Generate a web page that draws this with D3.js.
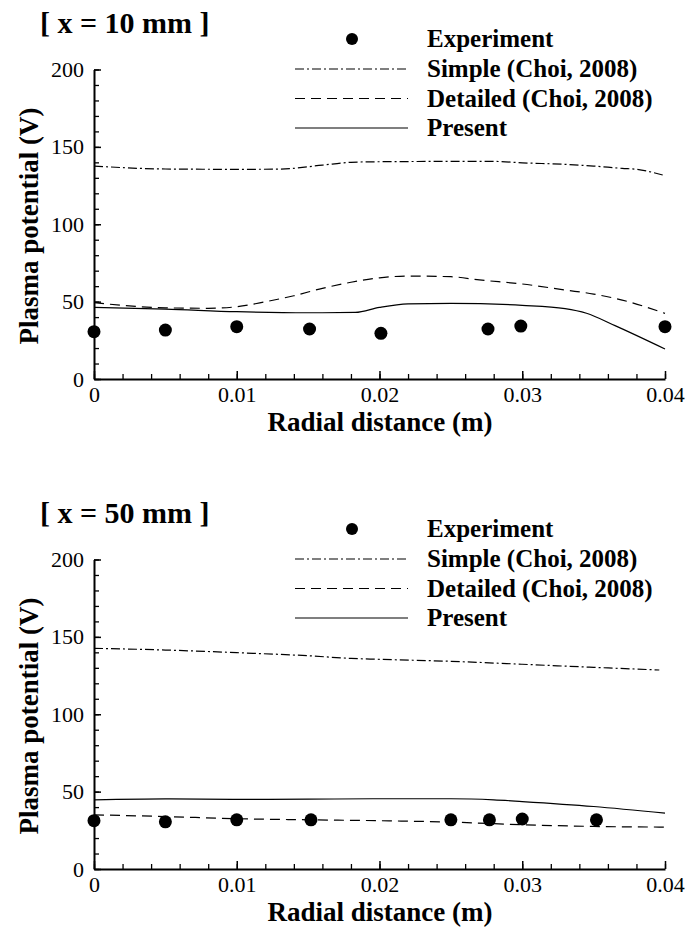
<!DOCTYPE html>
<html lang="en">

<head>
    <meta charset="UTF-8">
    <title>Plasma potential vs radial distance</title>
    <script src="https://d3js.org/d3.v7.min.js"></script>
    <style>
        body {
            margin: 0;
            background: white;
        }
    </style>
</head>

<body>
    <svg id="chart" width="688" height="927"></svg>
    <script>
        // ---- data ----
        const xTicks = [0, 0.01, 0.02, 0.03, 0.04];
        const yTicks = [0, 50, 100, 150, 200];
        const panelTitles = ["[ x = 10 mm ]", "[ x = 50 mm ]"];
        const legendLabels = ["Experiment", "Simple (Choi, 2008)", "Detailed (Choi, 2008)", "Present"];

        // x = 10 mm
        const expXTop = [0, 0.005, 0.01, 0.0151, 0.0201, 0.0276, 0.0299, 0.04];
        const expTop = [30.6, 31.6, 33.8, 32.3, 29.5, 32.3, 34.2, 33.8];
        const simpleXTop = [0, 0.005, 0.01, 0.013, 0.016, 0.018, 0.02, 0.025, 0.028, 0.03, 0.033, 0.035, 0.037, 0.038, 0.04];
        const simpleTop = [137.6, 135.7, 135.5, 135.6, 138.2, 140, 140.4, 140.6, 140.6, 139.7, 138.7, 137.6, 136.1, 135.5, 131.4];
        const detailedXTop = [0, 0.005, 0.008, 0.01, 0.012, 0.014, 0.016, 0.018, 0.02, 0.022, 0.025, 0.027, 0.03, 0.033, 0.035, 0.037, 0.04];
        const detailedTop = [49.3, 46, 45.7, 46.7, 49.9, 53.8, 58.6, 62.5, 65.4, 66.5, 66.1, 64, 61.4, 57.5, 54.9, 51, 42.4];
        const presentXTop = [0, 0.005, 0.01, 0.015, 0.0183, 0.02, 0.022, 0.025, 0.03, 0.033, 0.0345, 0.0365, 0.04];
        const presentTop = [46.3, 45.2, 43.5, 42.8, 43, 46.3, 48.6, 48.9, 47.6, 45.5, 42.5, 34.5, 19.4];

        // x = 50 mm
        const expXBot = [0, 0.005, 0.01, 0.0152, 0.025, 0.0277, 0.03, 0.0352];
        const expBot = [31.2, 30.5, 31.8, 31.8, 31.8, 31.8, 32.3, 31.8];
        const simpleXBot = [0, 0.005, 0.01, 0.015, 0.018, 0.02, 0.025, 0.03, 0.035, 0.0396];
        const simpleBot = [142.6, 141.5, 139.8, 137.8, 136.1, 135.5, 134.2, 132.3, 130.3, 128.6];
        const detailedXBot = [0, 0.005, 0.01, 0.015, 0.02, 0.025, 0.03, 0.035, 0.04];
        const detailedBot = [35, 33.9, 32.5, 31.8, 31.2, 30.3, 28.6, 27.5, 27.1];
        const presentXBot = [0, 0.005, 0.01, 0.015, 0.02, 0.025, 0.028, 0.03, 0.035, 0.04];
        const presentBot = [44.7, 45.3, 45, 45.1, 45.4, 45.4, 44.7, 43.6, 40.4, 36.1];

        const FONT = "'Liberation Serif', 'Times New Roman', Times, 'DejaVu Serif', serif";

        const svg = d3.select("#chart");

        const zip = (xs, ys) => xs.map((x, i) => [x, ys[i]]);

        const dashes = {
            simple: "9,3,2,3",
            detailed: "10,6",
            present: null
        };

        function drawPanel(offset, title, exp, simple, detailed, present) {
            const g = svg.append("g")
                .attr("transform", "translate(0," + offset + ")")
                .attr("font-family", FONT);

            const x = d3.scaleLinear().domain([0, 0.04]).range([94, 665]);
            const y = d3.scaleLinear().domain([0, 200]).range([379, 69.5]);

            // minor ticks
            g.append("g")
                .attr("transform", "translate(0,379)")
                .call(d3.axisBottom(x).tickValues(d3.range(0, 0.0401, 0.002)).tickSize(-5).tickFormat(""))
                .call(a => a.select(".domain").remove())
                .call(a => a.selectAll("line").attr("stroke-width", 1.3));
            g.append("g")
                .attr("transform", "translate(94,0)")
                .call(d3.axisLeft(y).tickValues(d3.range(0, 201, 10)).tickSize(-5).tickFormat(""))
                .call(a => a.select(".domain").remove())
                .call(a => a.selectAll("line").attr("stroke-width", 1.3));

            // major ticks + labels
            g.append("g")
                .attr("transform", "translate(0,379)")
                .call(d3.axisBottom(x).tickValues(xTicks).tickSize(-8).tickSizeOuter(0).tickPadding(7.5)
                    .tickFormat(d => d === 0 ? "0" : d3.format(".2f")(d)))
                .attr("font-family", FONT)
                .attr("font-size", 22)
                .call(a => a.select(".domain").attr("stroke-width", 2))
                .call(a => a.selectAll("line").attr("stroke-width", 1.5));
            g.append("g")
                .attr("transform", "translate(94,0)")
                .call(d3.axisLeft(y).tickValues(yTicks).tickSize(-7).tickSizeOuter(0).tickPadding(10))
                .attr("font-family", FONT)
                .attr("font-size", 22)
                .call(a => a.select(".domain").attr("stroke-width", 2))
                .call(a => a.selectAll("line").attr("stroke-width", 1.5));

            // axis titles
            g.append("text")
                .attr("font-weight", "bold")
                .attr("x", 380)
                .attr("y", 431)
                .attr("text-anchor", "middle")
                .attr("font-size", 27)
                .text("Radial distance (m)");
            g.append("text")
                .attr("font-weight", "bold")
                .attr("transform", "translate(38,226) rotate(-90)")
                .attr("text-anchor", "middle")
                .attr("font-size", 27)
                .text("Plasma potential (V)");

            // panel title
            g.append("text")
                .attr("font-weight", "bold")
                .attr("x", 40)
                .attr("y", 33)
                .attr("font-size", 30)
                .text(title);

            // curves
            const line = d3.line()
                .x(d => x(d[0]))
                .y(d => y(d[1]))
                .curve(d3.curveMonotoneX);

            [[simple, dashes.simple], [detailed, dashes.detailed], [present, dashes.present]].forEach(([data, dash]) => {
                g.append("path")
                    .datum(data)
                    .attr("fill", "none")
                    .attr("stroke", "black")
                    .attr("stroke-width", 1.2)
                    .attr("stroke-dasharray", dash)
                    .attr("d", line);
            });

            // experiment points
            g.append("g")
                .selectAll("circle")
                .data(exp)
                .join("circle")
                .attr("cx", d => x(d[0]))
                .attr("cy", d => y(d[1]))
                .attr("r", 6.5)
                .attr("fill", "black");

            // legend
            const rows = [39, 69, 98.5, 128];
            const legend = g.append("g");
            legend.append("circle")
                .attr("cx", 352)
                .attr("cy", rows[0])
                .attr("r", 6)
                .attr("fill", "black");
            [dashes.simple, dashes.detailed, dashes.present].forEach((dash, i) => {
                legend.append("line")
                    .attr("x1", 295)
                    .attr("x2", 408)
                    .attr("y1", rows[i + 1])
                    .attr("y2", rows[i + 1])
                    .attr("stroke", "black")
                    .attr("stroke-width", 1.2)
                    .attr("stroke-dasharray", dash);
            });
            legend.selectAll("text")
                .data(legendLabels)
                .join("text")
                .attr("font-weight", "bold")
                .attr("x", 427)
                .attr("y", (d, i) => rows[i] + 8)
                .attr("font-size", 25)
                .text(d => d);
        }

        drawPanel(0, panelTitles[0],
            zip(expXTop, expTop), zip(simpleXTop, simpleTop),
            zip(detailedXTop, detailedTop), zip(presentXTop, presentTop));

        drawPanel(490, panelTitles[1],
            zip(expXBot, expBot), zip(simpleXBot, simpleBot),
            zip(detailedXBot, detailedBot), zip(presentXBot, presentBot));
    </script>
</body>

</html>
